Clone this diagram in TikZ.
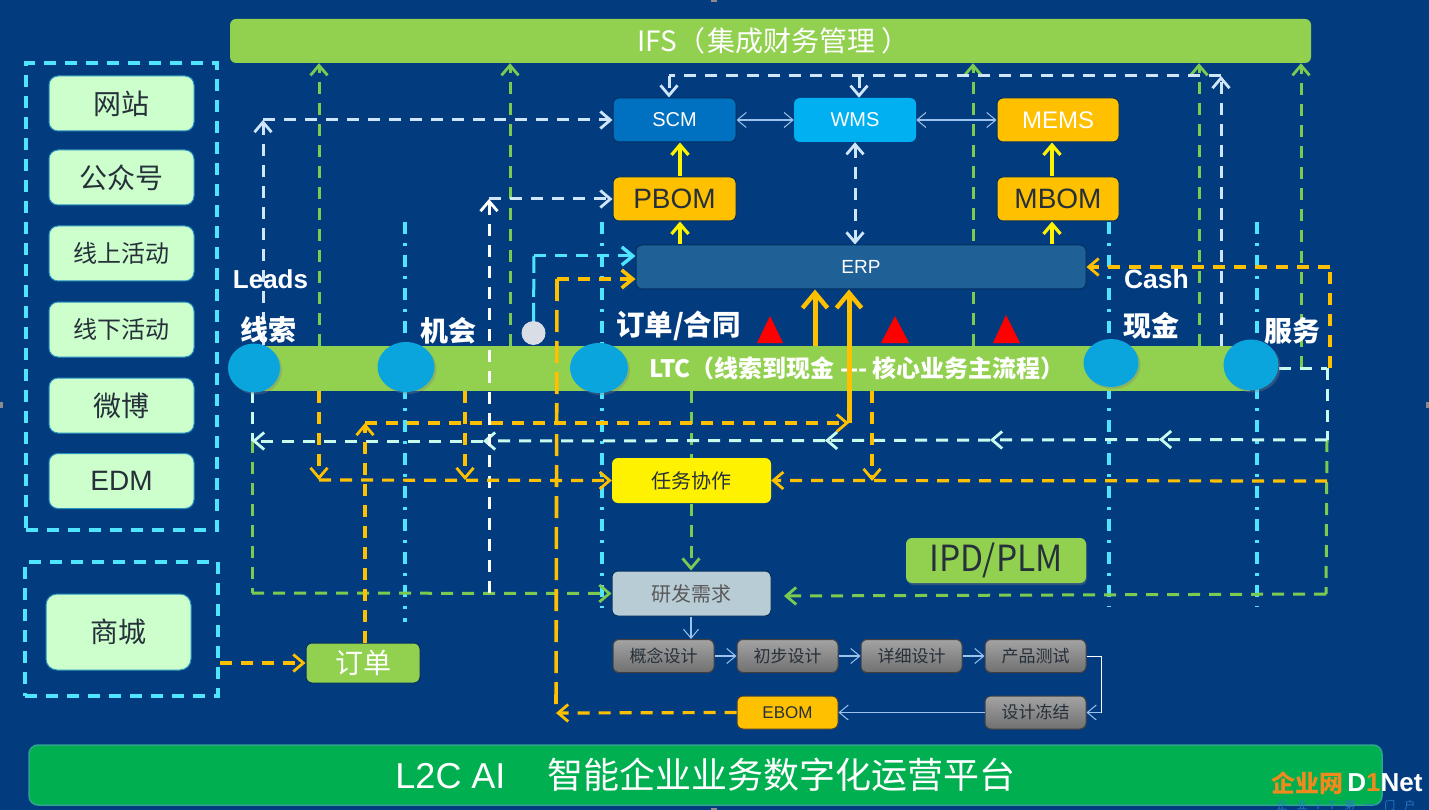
\documentclass[tikz,border=0pt]{standalone}
\usepackage{graphicx}
\usepackage{fontspec}
\setmainfont{Noto Sans CJK SC}
\newfontfamily\lat{Liberation Sans}
\usetikzlibrary{arrows.meta,shapes.geometric,shadows,calc}
\definecolor{bgnavy}{HTML}{023C7F}
\definecolor{lgreen}{HTML}{92D050}
\definecolor{dgreen}{HTML}{7CCB50}
\definecolor{amber}{HTML}{FFC000}
\definecolor{cyanl}{HTML}{4FE5FF}
\definecolor{paleb}{HTML}{CFE6FA}
\definecolor{palec}{HTML}{C8FBEE}
\definecolor{mint}{HTML}{CCFFCC}
\definecolor{thinb}{HTML}{9CC2EE}
\definecolor{ballb}{HTML}{0BA5DE}
\definecolor{txtd}{HTML}{26303A}
\definecolor{scmc}{HTML}{0070C0}
\definecolor{wmsc}{HTML}{00B0F0}
\definecolor{erpc}{HTML}{1F6096}
\definecolor{rdc}{HTML}{B8CCD6}
\definecolor{aic}{HTML}{00B050}
\definecolor{edgec}{HTML}{02305F}
\definecolor{logoo}{HTML}{F08A1D}
\definecolor{logob}{HTML}{2A78C8}
\definecolor{gcc}{HTML}{D9DDE6}
\definecolor{aiedge}{HTML}{2FA58C}
\pgfdeclarelayer{back}\pgfdeclarelayer{front}\pgfdeclarelayer{topl}
\pgfsetlayers{back,main,front,topl}
\tikzset{
 fs/.style={font=\fontsize{#1}{#1}\selectfont},
 fsb/.style={font=\fontsize{#1}{#1}\selectfont\bfseries},
 fl/.style={font=\lat\fontsize{#1}{#1}\selectfont},
 flb/.style={font=\lat\bfseries\fontsize{#1}{#1}\selectfont},
 bx/.style n args={4}{rounded corners=6pt,inner sep=0pt,minimum width=#1,minimum height=#2,fill=#3,text=#4},
 mintbox/.style={bx={145pt}{55pt}{mint}{txtd},draw=cyanl!50!bgnavy,line width=1pt,rounded corners=9pt,fs=28},
 mintnar/.style={mintbox,fs=24},
 greybox/.style={bx={101pt}{33pt}{gray}{txtd},draw=black!75,line width=1pt,top color=black!36,bottom color=black!56,fs=17},
 edged/.style={draw=edgec,line width=1pt},
 ball/.style={ellipse,inner sep=0pt,fill=ballb,drop shadow={opacity=.35,shadow xshift=2pt,shadow yshift=-2pt}},
 lab/.style={text=white,inner sep=0pt},
 tipv/.style={>={Straight Barb[length=10pt,width=17pt,line width=2.8pt]}},
 dsh/.style={tipv,dash pattern=on 12pt off 9pt,line width=3pt},
 dshp/.style={dsh,draw=paleb},
 dshc/.style={dsh,draw=palec},
 dshg/.style={dsh,draw=dgreen},
 dsho/.style={dsh,draw=amber,line width=3.2pt},
 dshcy/.style={dsh,draw=cyanl},
 dotcy/.style={draw=cyanl,line width=3.1pt,dash pattern=on 12pt off 9pt on 3pt off 9pt},
 frameln/.style={draw=cyanl,line width=3.1pt,dash pattern=on 12pt off 9pt,inner sep=0pt},
 thinln/.style={draw=thinb,line width=1.2pt,>={Straight Barb[length=9pt,width=15pt,line width=1pt]}},
 yel/.style={draw=yellow,line width=3.2pt,>={Straight Barb[length=10pt,width=17pt,line width=3.2pt]}},
 bigo/.style={draw=amber,line width=5pt,>={Straight Barb[length=15pt,width=25pt,line width=4.5pt]}},
 redtri/.style={fill=red,draw=none},
 handle/.style={fill=black!45,draw=none}
}
\begin{document}
\begin{tikzpicture}[x=1pt,y=-1pt]
\useasboundingbox (0,0) rectangle (1429,810);
\begin{pgfonlayer}{back}
\fill[bgnavy] (0,0) rectangle (1429,810);
\end{pgfonlayer}
% top bar
\node[bx={1081pt}{44pt}{lgreen}{white},fs=28,text width=1081pt,align=center] (ifs) at (770.5,41) {\hspace{6pt}IFS（\hspace{2pt}集成财务管理\hspace{6pt}）};
% left groups
\node[frameln,minimum width=191pt,minimum height=467pt] (grp1) at (121.5,296.5) {};
\node[frameln,minimum width=193pt,minimum height=134pt] (grp2) at (121.5,629) {};
\node[mintbox] (n1) at (121.5,103.5) {网站};
\node[mintbox] (n2) at (121.5,177.5) {公众号};
\node[mintnar] (n3) at (121.5,253.5) {线上活动};
\node[mintnar] (n4) at (121.5,329.5) {线下活动};
\node[mintbox] (n5) at (121.5,405.5) {微博};
\node[mintbox,font=\lat\fontsize{28}{28}\selectfont] (n6) at (121.5,481) {EDM};
\node[mintbox,minimum height=76pt,rounded corners=11pt] (n7) at (118.5,632) {商城};
% system boxes
\node[bx={123pt}{44pt}{scmc}{white},fl=20,edged] (scm) at (674.5,120) {SCM};
\node[bx={122pt}{44pt}{wmsc}{white},fl=20] (wms) at (855,120) {WMS};
\node[bx={122pt}{44pt}{amber}{white},fl=24,edged] (mems) at (1058,120) {MEMS};
\node[bx={123pt}{44pt}{amber}{txtd},fl=28,edged] (pbom) at (674.5,199) {PBOM};
\node[bx={122pt}{44pt}{amber}{txtd},fl=28,edged] (mbom) at (1058,199) {MBOM};
\node[bx={450pt}{44pt}{erpc}{white},fl=19,edged] (erp) at (861,267) {ERP};
% LTC bar
\node[bx={990pt}{45pt}{lgreen}{white},rounded corners=0pt] (ltc) at (755,368.5) {};
\node[lab,fsb=24] (ltct) at (857,368) {LTC（线索到现金 -{}-{}-\hspace{5pt}核心业务主流程）};
\node[ball,minimum width=52pt,minimum height=49pt] (e1) at (254,368) {};
\node[ball,minimum width=57pt,minimum height=50pt] (e2) at (406,367) {};
\node[ball,minimum width=58pt,minimum height=50pt] (e3) at (599,368) {};
\node[ball,minimum width=55pt,minimum height=48pt] (e4) at (1111,363) {};
\node[ball,minimum width=55pt,minimum height=51pt] (e5) at (1251,365) {};
\node[circle,fill=gcc,inner sep=0pt,minimum size=24pt] (gc) at (533.5,333) {};
% red triangles
\path[redtri] (770,316) -- (783,343) -- (757,343) -- cycle;
\path[redtri] (895,316) -- (909,343) -- (881,343) -- cycle;
\path[redtri] (1006,315) -- (1020,343) -- (993,343) -- cycle;
% workflow boxes
\node[bx={159pt}{45pt}{yellow}{txtd},fs=20] (task) at (691.5,480.5) {任务协作};
\node[bx={159pt}{45pt}{rdc}{black!65},fs=20,edged] (rd) at (691.5,593.5) {研发需求};
\node[greybox] (d1) at (663.5,656) {概念设计};
\node[greybox] (d2) at (787.5,656) {初步设计};
\node[greybox] (d3) at (911.5,656) {详细设计};
\node[greybox] (d4) at (1035.5,656) {产品测试};
\node[greybox] (d5) at (1035.5,712.5) {设计冻结};
\node[bx={101pt}{33pt}{amber}{txtd},fl=17,draw=black!75,line width=1pt] (ebom) at (787.5,712.5) {EBOM};
\node[bx={180pt}{45pt}{lgreen}{txtd},drop shadow={opacity=.35,shadow xshift=1pt,shadow yshift=-2pt}] (ipd) at (996,560.5) {\fontsize{36}{36}\selectfont\scalebox{.93}[1]{IPD/PLM}};
\node[bx={114pt}{40pt}{lgreen}{white},fs=28,edged] (ord) at (363,663) {订单};
% bottom bar
\node[bx={1353pt}{60pt}{aic}{white},draw=aiedge,line width=1.5pt,rounded corners=9pt,fs=36] (ai) at (705.5,775) {{\lat L2C AI}\hspace{42pt}智能企业业务数字化运营平台};

% guides and corners
\coordinate (vA) at (263,120);
\coordinate (vB) at (489,199);
\coordinate (vC) at (1221,76);
\coordinate (vS) at (669,76);
\coordinate (vW) at (859,76);
\coordinate (vO) at (557,279);
\coordinate (vOb) at (556,713);
\coordinate (vCy) at (534,256);
\coordinate (rgt) at (1330,267);
\coordinate (rgtb) at (1330,368);
\coordinate (rp) at (1327,368);
\coordinate (rq) at (1327,440);
\coordinate (rr) at (1327,481);
\coordinate (rs) at (1326,594);
\coordinate (re) at (784,596);
\coordinate (lp) at (252,441);
\coordinate (lq) at (252,593);
\coordinate (oa) at (365,423);
\coordinate (ob) at (849,423);
\coordinate (oc) at (319,480);
\coordinate (od) at (465,480);
\coordinate (oe) at (872,481);
\coordinate (tr) at (1101,656);
\coordinate (br) at (1101,712.5);

\begin{pgfonlayer}{back}
% dash-dot cyan verticals
\foreach \xv/\yb in {405/622,602/608,1109/607,1257/607}
 \draw[dotcy] (\xv,222) -- (\xv,\yb);
% green to IFS
\foreach \xv in {319,510,973,1199}
 \draw[dshg,->] (\xv,346) -- (\xv,0 |- ifs.south);
\draw[dshg,->] (1301,368) -- (1301,0 |- ifs.south);
\draw[dshg] (691,391) -- (691,0 |- task.north);
% pale blue
\draw[dshp,->] (263,345) -- (vA);
\draw[dshp,->] (vA) -- (scm.west);
\draw[dshp,->] (1221,346) -- (vC);
\draw[dshp] (vC) -- (vS);
\draw[dshp,->] (vS) -- (vS |- scm.north);
\draw[dshp,->] (vW) -- (vW |- wms.north);
\draw[dshp,<->] (855,0 |- wms.south) -- (855,0 |- erp.north);
% thin
\draw[thinln,<->] (scm.east) -- (wms.west);
\draw[thinln,<->] (wms.east) -- (mems.west);
% yellow
\draw[yel,->] (680,0 |- pbom.north) -- (680,0 |- scm.south);
\draw[yel,->] (680,0 |- erp.north) -- (680,0 |- pbom.south);
\draw[yel,->] (1052,0 |- mbom.north) -- (1052,0 |- mems.south);
\draw[yel,->] (1052,0 |- erp.north) -- (1052,0 |- mbom.south);
% cyan from circle
\draw[draw=cyanl,line width=3pt,dash pattern=on 18pt off 6pt] (gc.north) -- (vCy);
\draw[dshcy,->,>={Straight Barb[length=11pt,width=18pt,line width=3.4pt]}] (vCy) -- (erp.west |- vCy);
% bottom-left verticals
\draw[dshc] (252,391) -- (lp);
\draw[dshg] (lp) -- (lq);
\draw[dshg,->] (lq) -- (rd.west);
\draw[dshc] (rp) -- (rq);
\draw[dshc] (e5.east |- rp) -- (rp);
\draw[dshg] (rq) -- (rs);
\draw[dshg,->] (rs) -- (re);
\end{pgfonlayer}

\begin{pgfonlayer}{front}
% horizontal pale cyan with repeated heads
\draw[dshc,->] (rq) -- (1159,439.5);
\draw[dshc,->] (1159,439.5) -- (990,440);
\draw[dshc,->] (990,440) -- (825,440.5);
\draw[dshc,->] (825,440.5) -- (483,441);
\draw[dshc,->] (483,441) -- (lp);
% white vertical
\draw[dshp,draw=white,->] (489,593) -- (vB);
\draw[dshp,->] (vB) -- (pbom.west);
% amber
\draw[dsho] (rgtb) -- (rgt);
\draw[dsho,->] (rgt) -- (erp.east |- rgt);
\draw[dsho,->] (rr) -- (task.east);
\draw[dsho,->] (ord.north -| oa) -- (oa);
\draw[dsho,->] (oa) -- (ob);
\draw[dsho,->] (319,391) -- (oc);
\draw[dsho,->] (465,391) -- (od);
\draw[dsho,->] (872,391) -- (oe);
\draw[dsho,->] (oc) -- (task.west);
\draw[dsho,->] (ebom.west) -- (vOb);
\draw[dsho,line width=3.6pt,dash pattern=on 22pt off 9pt] (vO) -- (vOb);
\draw[dsho,line width=3.6pt,->,>={Straight Barb[length=11pt,width=18pt,line width=3.6pt]}] (vO) -- (erp.west |- vO);
\draw[dsho,->] (grp2.east |- ord.west) -- (ord.west);
% big solid arrows
\draw[bigo,->] (815,346) -- (815,0 |- erp.south);
\draw[bigo,->] (ob) -- (849,0 |- erp.south);
% green task -> rd
\draw[dshg,->] (691,503.5) -- (691,0 |- rd.north);
% thin workflow
\draw[thinln,->] (691,0 |- rd.south) -- (691,0 |- d1.north);
\draw[thinln,->] (d1.east) -- (d2.west);
\draw[thinln,->] (d2.east) -- (d3.west);
\draw[thinln,->] (d3.east) -- (d4.west);
\draw[draw=white,line width=1pt] (d4.east) -- (tr) -- (br);
\draw[thinln,->] (br) -- (d5.east);
\draw[thinln,->] (d5.west) -- (ebom.east);
\end{pgfonlayer}

\begin{pgfonlayer}{topl}
\node[lab,flb=26] (l1) at (270.5,279) {Leads};
\node[lab,fsb=28] (l2) at (268,330) {线索};
\node[lab,fsb=28] (l3) at (448,331) {机会};
\node[lab,fsb=28.5] (l4) at (678.5,326) {订单/合同};
\node[lab,flb=26.5] (l5) at (1156.5,279) {Cash};
\node[lab,fsb=28] (l6) at (1151,326) {现金};
\node[lab,fsb=28] (l7) at (1292,331) {服务};
% logo
\node[inner sep=0pt,text=logoo,fsb=24] (lg1) at (1307,783) {企业网};
\node[inner sep=0pt,flb=26,text=white] (lg2) at (1385,783) {D\textcolor{logoo}{1}Net};
\node[inner sep=0pt,fs=11,text=logob] (lg3) at (1346,805) {企\hspace{9pt}业\hspace{9pt}I\hspace{9pt}T\hspace{9pt}第\hspace{9pt}一\hspace{9pt}门\hspace{9pt}户};
% selection handles
\node[handle,minimum width=3pt,minimum height=6pt,inner sep=0pt] (h1) at (1.5,405) {};
\node[handle,minimum width=3pt,minimum height=6pt,inner sep=0pt] (h2) at (1427.5,405) {};
\node[handle,minimum width=6pt,minimum height=2pt,inner sep=0pt] (h3) at (714,809) {};
\node[handle,minimum width=6pt,minimum height=2pt,inner sep=0pt] (h4) at (714,1) {};
\end{pgfonlayer}
\end{tikzpicture}
\end{document}
